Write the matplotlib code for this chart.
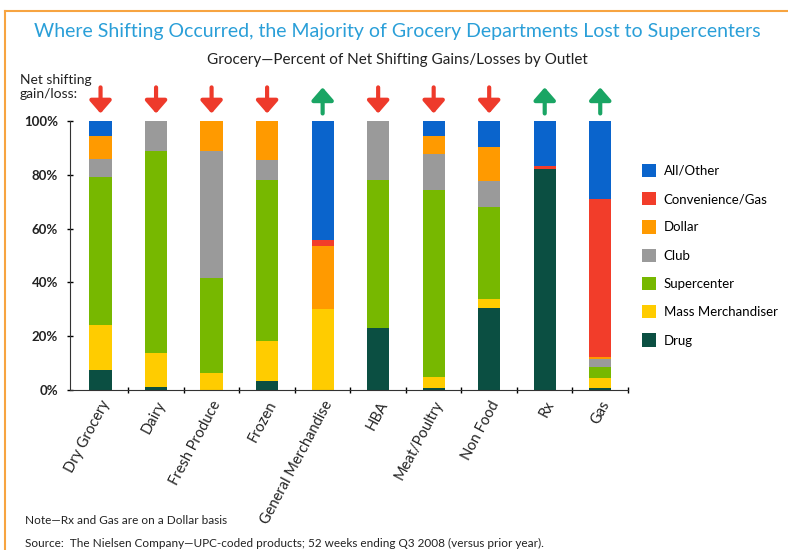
import matplotlib
matplotlib.use("Agg")
import matplotlib.pyplot as plt
from matplotlib.patches import Patch
from matplotlib.lines import Line2D
import numpy as np

plt.rcParams['font.family'] = ['Lato', 'DejaVu Sans']

departments = ["Dry Grocery", "Dairy", "Fresh Produce", "Frozen", "General Merchandise",
               "HBA", "Meat/Poultry", "Non Food", "Rx", "Gas"]
# net shifting gain (+1) / loss (-1)
direction = [-1, -1, -1, -1, 1, -1, -1, -1, 1, 1]

drug        = [7.5, 1.2, 0.0, 3.2, 0.0, 23.0, 0.7, 30.6, 82.3, 0.6]
mass_merch  = [16.5, 12.4, 6.5, 15.2, 30.0, 0.0, 4.0, 3.2, 0.0, 4.0]
supercenter = [55.0, 75.4, 35.0, 59.5, 0.0, 55.0, 69.5, 34.3, 0.0, 4.0]
club        = [7.0, 11.0, 47.5, 7.6, 0.0, 22.0, 13.4, 9.6, 0.0, 3.0]
dollar      = [8.5, 0.0, 11.0, 14.5, 23.5, 0.0, 6.8, 12.5, 0.0, 0.5]
convenience = [0.0, 0.0, 0.0, 0.0, 2.3, 0.0, 0.0, 0.0, 1.0, 58.8]
all_other   = [5.5, 0.0, 0.0, 0.0, 44.2, 0.0, 5.6, 9.8, 16.7, 29.1]

series = [("Drug", drug, "#0b4f42"),
          ("Mass Merchandiser", mass_merch, "#ffcc00"),
          ("Supercenter", supercenter, "#77b800"),
          ("Club", club, "#9a9a9a"),
          ("Dollar", dollar, "#ff9a00"),
          ("Convenience/Gas", convenience, "#f23d2a"),
          ("All/Other", all_other, "#0a64cc")]

fig = plt.figure(figsize=(7.88, 5.5), dpi=100)
ax = fig.add_axes([70/788, 1-390/550, (628-70)/788, (390-121)/550])

x = np.arange(len(departments))
bottom = np.zeros(len(departments))
for name, vals, col in series:
    ax.bar(x, vals, 0.4, bottom=bottom, color=col, label=name)
    bottom += np.array(vals)

ax.set_xlim(-0.55, 9.5)
ax.set_ylim(0, 100)
ax.set_yticks([0, 20, 40, 60, 80, 100])
ax.set_yticklabels(["0%", "20%", "40%", "60%", "80%", "100%"], fontsize=9.5, fontweight='bold', color='#222222')
ax.set_xticks(x)
ax.set_xticklabels(departments, rotation=62, ha='right', rotation_mode='anchor', fontsize=10.5, color='#222222')
ax.tick_params(axis='x', length=0, pad=6)
ax.set_xticks(np.arange(0.5, 10, 1), minor=True)
ax.tick_params(axis='x', which='minor', length=4, direction='inout', width=1)
ax.tick_params(axis='y', length=5, direction='inout', width=1, pad=6)
for s in ['top', 'right']:
    ax.spines[s].set_visible(False)
ax.spines['left'].set_color('#333333')
ax.spines['bottom'].set_color('#333333')

# gain/loss arrows
astyle = '-|>,head_width=0.33,head_length=0.38'
for xi, d in zip(x, direction):
    if d < 0:
        ax.annotate('', xy=(xi, 102.8), xytext=(xi, 112.5), annotation_clip=False,
                    arrowprops=dict(arrowstyle=astyle, lw=3, color='#ee3a2b',
                                    mutation_scale=20, shrinkA=0, shrinkB=0))
    else:
        ax.annotate('', xy=(xi, 112.5), xytext=(xi, 102.8), annotation_clip=False,
                    arrowprops=dict(arrowstyle=astyle, lw=3, color='#1aa564',
                                    mutation_scale=20, shrinkA=0, shrinkB=0))

handles = [Patch(facecolor=c, label=n) for n, v, c in series[::-1]]
fig.legend(handles=handles, loc='upper left', bbox_to_anchor=(630/788, 1-152/550),
           frameon=False, fontsize=9.5, handlelength=1.05, handleheight=1.15,
           labelspacing=1.15, handletextpad=0.6)

fig.text(397/788, 1-32/550, "Where Shifting Occurred, the Majority of Grocery Departments Lost to Supercenters",
         ha='center', va='center', fontsize=14, color='#2a9fd8')
fig.text(397/788, 1-60/550, "Grocery\u2014Percent of Net Shifting Gains/Losses by Outlet",
         ha='center', va='center', fontsize=11, color='#222222')
fig.text(20/788, 1-87/550, "Net shifting\ngain/loss:", ha='left', va='center', fontsize=10,
         color='#222222', linespacing=1.1)
fig.text(25/788, 1-521/550, "Note\u2014Rx and Gas are on a Dollar basis", ha='left', va='center',
         fontsize=8.5, color='#222222')
fig.text(25/788, 1-543/550, "Source:  The Nielsen Company\u2014UPC-coded products; 52 weeks ending Q3 2008 (versus prior year).",
         ha='left', va='center', fontsize=8.5, color='#222222')

# orange frame at top and left
fig.add_artist(Line2D([5/788, 1], [1-11/550, 1-11/550], color='#f7a441', lw=1.5))
fig.add_artist(Line2D([5/788, 5/788], [0, 1-11/550], color='#f7a441', lw=1.5))

fig.savefig("out.png", dpi=100)
